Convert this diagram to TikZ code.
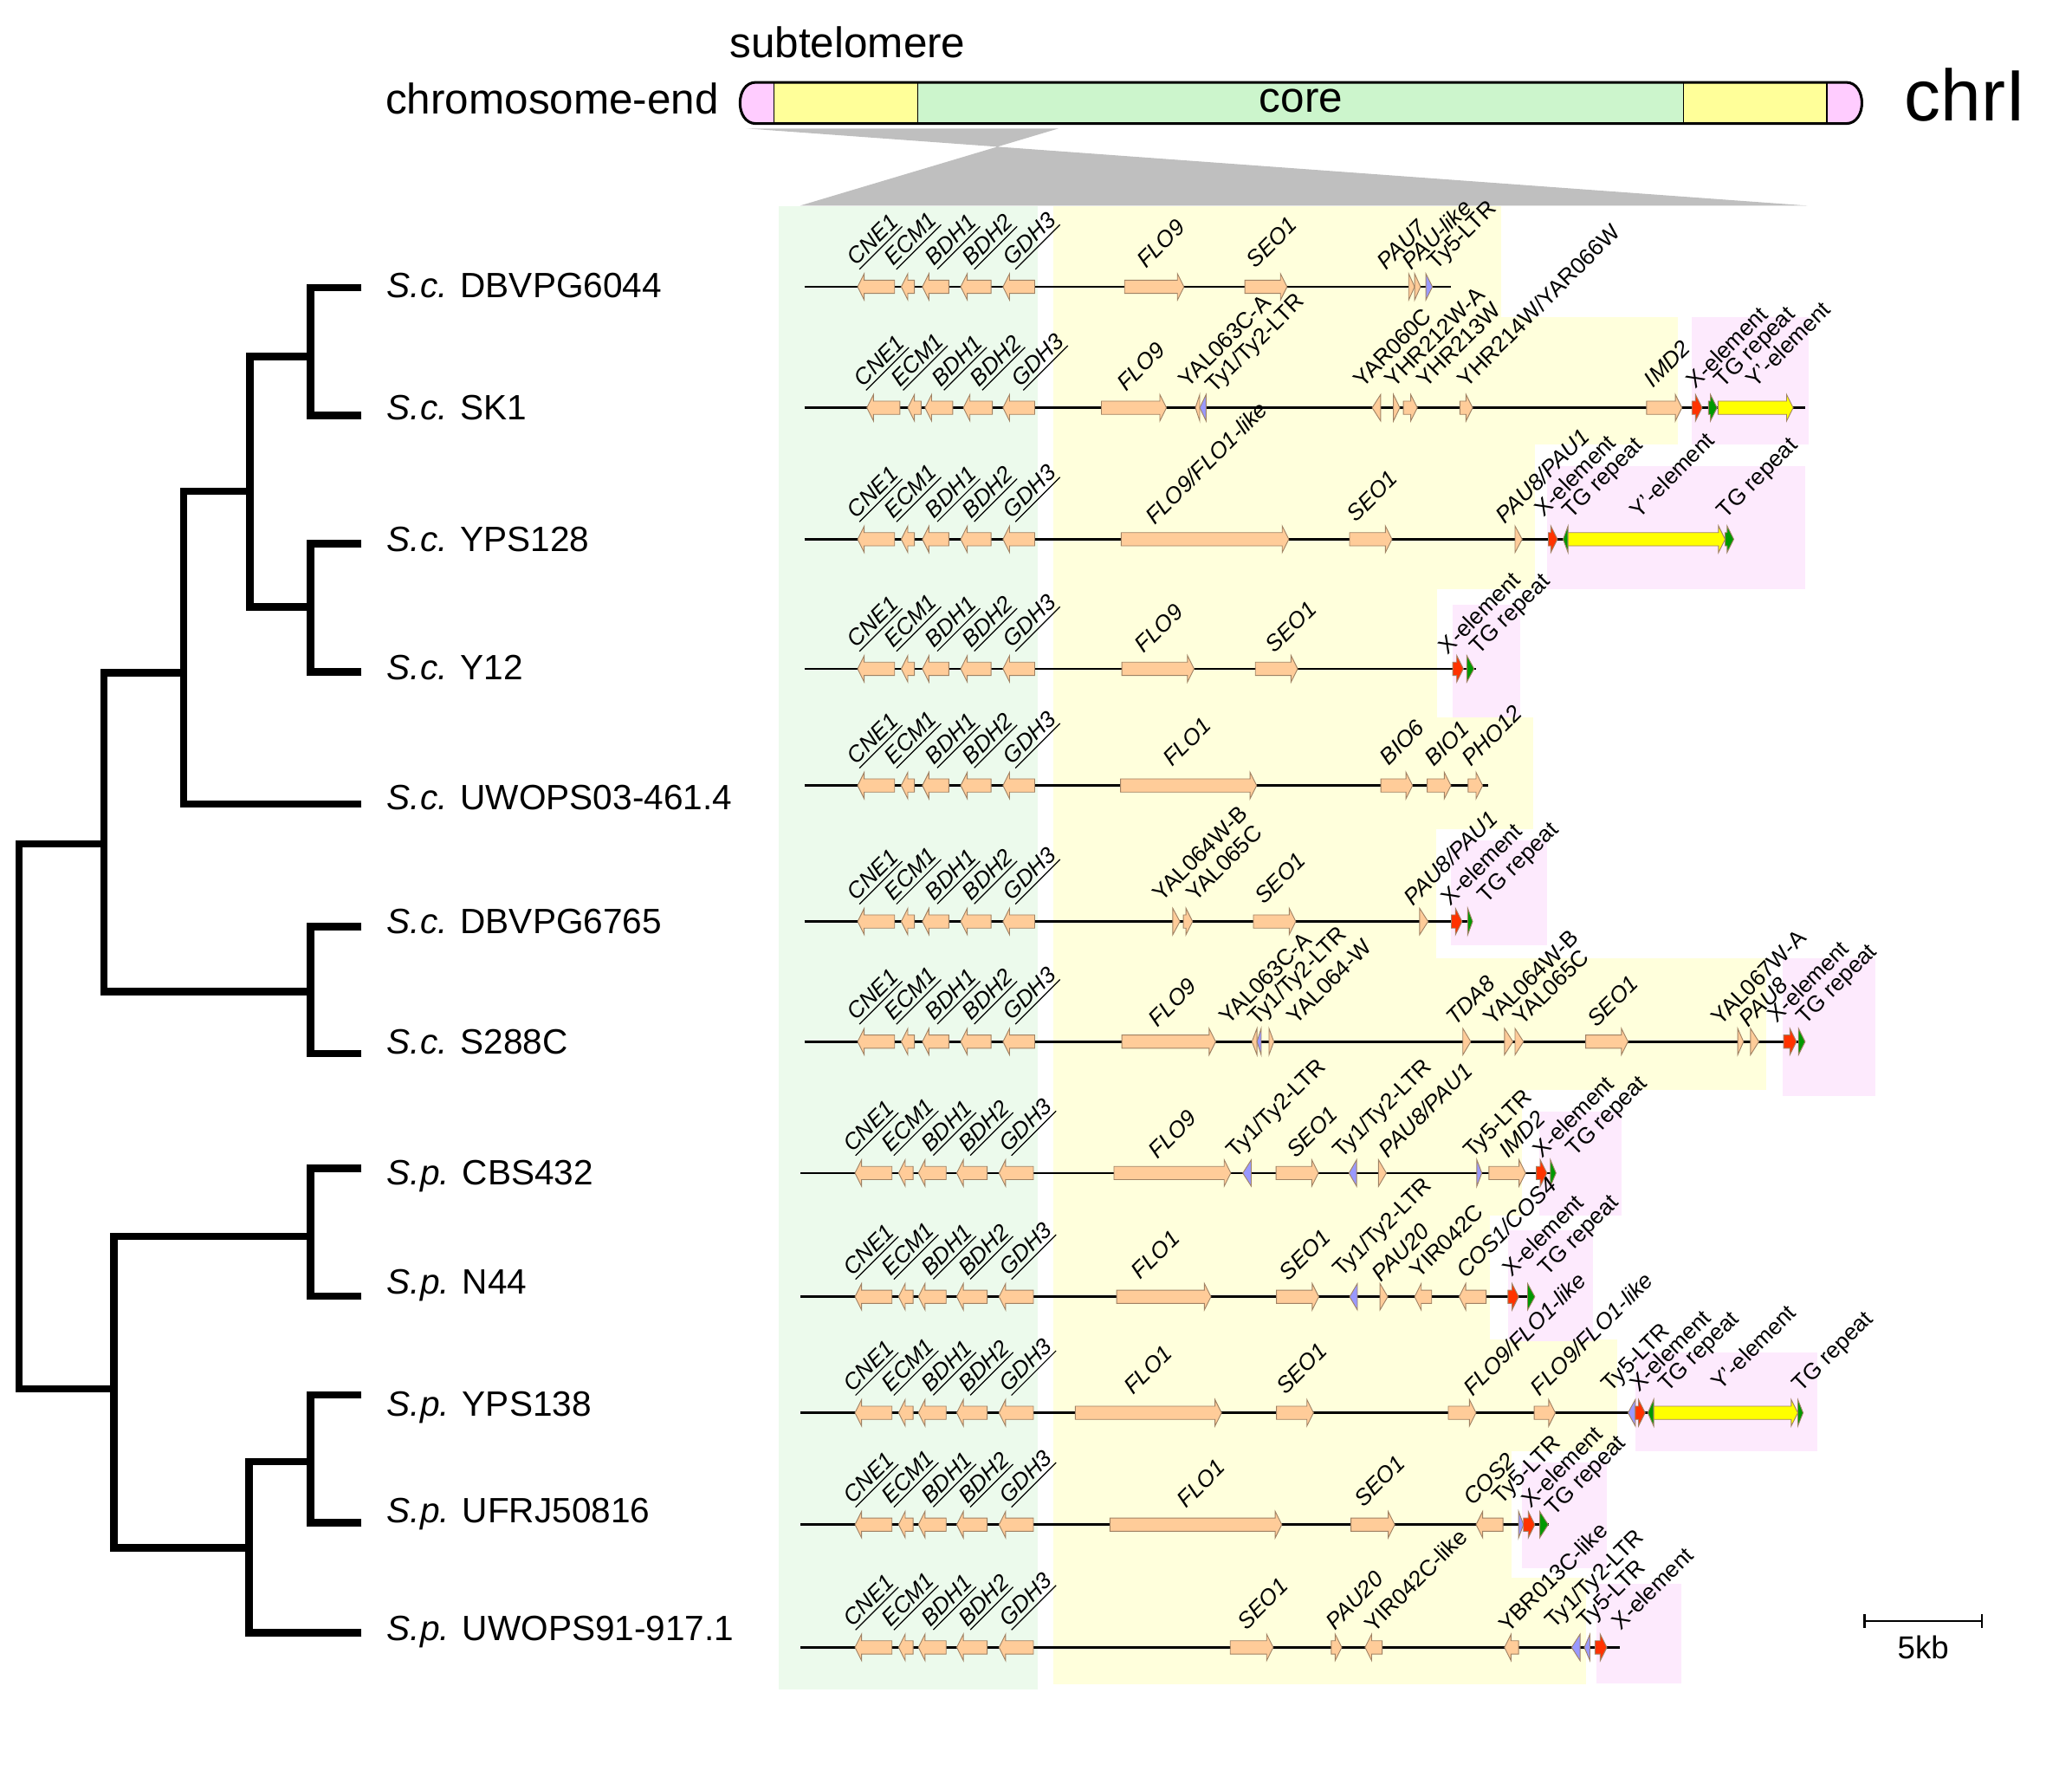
\documentclass[tikz,border=0pt]{standalone}
\usepackage{fontspec}
\setmainfont{Liberation Sans}
\definecolor{gfill}{RGB}{255,204,153}
\definecolor{gedge}{RGB}{160,130,100}
\definecolor{gltr}{RGB}{153,153,255}
\definecolor{gred}{RGB}{255,51,0}
\definecolor{ggreen}{RGB}{0,153,0}
\definecolor{gyel}{RGB}{255,255,0}
\definecolor{bggreen}{RGB}{236,250,236}
\definecolor{bgyel}{RGB}{255,255,220}
\definecolor{bgpink}{RGB}{253,234,253}
\definecolor{cpink}{RGB}{255,204,255}
\definecolor{cyel}{RGB}{255,255,153}
\definecolor{cgreen}{RGB}{204,245,204}
\definecolor{cgray}{RGB}{191,191,191}
\newcount\lblcnt
\tikzset{
 glab/.style={rotate=45,anchor=base west,inner sep=0pt,font=\fontsize{8.6}{9}\selectfont},
 gi/.style={font=\fontsize{8.6}{9}\selectfont\itshape},
 gshape/.style={draw=gedge,line width=0.3pt},
 backbone/.style={line width=0.9pt},
 treeline/.style={line width=2.8pt},
 leaflab/.style={anchor=base west,inner sep=0pt,font=\fontsize{13.3}{16}\selectfont},
 hdr/.style={inner sep=0pt,font=\fontsize{16.2}{19}\selectfont},
}
\newcommand\genelabel[4][]{\global\advance\lblcnt by 1\relax
  \node[glab,#1] (lab\the\lblcnt) at (#2,#3) {#4};}
\newcommand\gene[5]{%
  \pgfmathsetmacro\gxa{#3}%
  \pgfmathsetmacro\gxb{#4}%
  \pgfmathsetmacro\gyy{#5}%
  \pgfmathsetmacro\gww{#4-#3}%
  \ifdim\gww pt<6.5pt
    \if#2R
      \filldraw[gshape,fill=#1] (\gxa,\gyy-10) -- (\gxb,\gyy) -- (\gxa,\gyy+10) -- cycle;
    \else
      \filldraw[gshape,fill=#1] (\gxb,\gyy-10) -- (\gxa,\gyy) -- (\gxb,\gyy+10) -- cycle;
    \fi
  \else
    \if#2R
      \pgfmathsetmacro\gxc{#4-5}%
      \filldraw[gshape,fill=#1] (\gxa,\gyy-5) -- (\gxc,\gyy-5) -- (\gxc,\gyy-10) -- (\gxb,\gyy) -- (\gxc,\gyy+10) -- (\gxc,\gyy+5) -- (\gxa,\gyy+5) -- cycle;
    \else
      \pgfmathsetmacro\gxc{#3+5}%
      \filldraw[gshape,fill=#1] (\gxb,\gyy-5) -- (\gxc,\gyy-5) -- (\gxc,\gyy-10) -- (\gxa,\gyy) -- (\gxc,\gyy+10) -- (\gxc,\gyy+5) -- (\gxb,\gyy+5) -- cycle;
    \fi
  \fi}
\def\coreAlist{649/677/CNE1/648, 682/692/ECM1/676, 698/718/BDH1/707, 727/750/BDH2/735, 759/783/GDH3/766}
\def\coreBlist{656/681/CNE1/653, 687/697/ECM1/681, 700/721/BDH1/712, 729/751/BDH2/741, 759/783/GDH3/772}
\def\coreClist{647/675/CNE1/645, 680/691/ECM1/674, 695/716/BDH1/704, 724/747/BDH2/732, 756/782/GDH3/763}
\newcommand\corerow[2]{%
  \foreach \cxa/\cxb/\cnm/\clx in #2 {%
    \gene{gfill}{L}{\cxa}{\cxb}{#1}%
    \pgfmathsetmacro\cly{#1-15}%
    \genelabel[gi]{\clx}{\cly}{\underline{\cnm}}%
  }}
\begin{document}
\begin{tikzpicture}[x=0.5pt,y=-0.5pt]
\useasboundingbox (0,0) rectangle (1568,1354);
% ---------- backgrounds ----------
\fill[bggreen] (589,156) rectangle (785,1278);
\fill[bgyel] (797,156) rectangle (1136,239.7);
\fill[bgyel] (797,239.7) rectangle (1270,336.5);
\fill[bgyel] (797,336.5) rectangle (1161.5,445.8);
\fill[bgyel] (797,445.8) rectangle (1087.6,542.8);
\fill[bgyel] (797,542.8) rectangle (1160,627);
\fill[bgyel] (797,627) rectangle (1086.6,725.2);
\fill[bgyel] (797,725.2) rectangle (1336.4,824.6);
\fill[bgyel] (797,824.6) rectangle (1151.8,919.7);
\fill[bgyel] (797,919.7) rectangle (1127.8,1013.6);
\fill[bgyel] (797,1013.6) rectangle (1224,1097.8);
\fill[bgyel] (797,1097.8) rectangle (1143.8,1194);
\fill[bgyel] (797,1194) rectangle (1200,1274);
\fill[bgpink] (1280.3,239.7) rectangle (1368.6,336.5);
\fill[bgpink] (1170.6,352.9) rectangle (1365.9,446);
\fill[bgpink] (1099.4,457.8) rectangle (1150.2,542.8);
\fill[bgpink] (1098.3,635.6) rectangle (1170.6,715.4);
\fill[bgpink] (1348.8,725.2) rectangle (1419.4,829);
\fill[bgpink] (1165,841) rectangle (1226.8,919.7);
\fill[bgpink] (1141.2,930.6) rectangle (1205.4,1014.7);
\fill[bgpink] (1237.5,1023.5) rectangle (1375.5,1097.8);
\fill[bgpink] (1151.9,1106.5) rectangle (1216,1186.3);
\fill[bgpink] (1208,1198.3) rectangle (1272.2,1273.7);
% ---------- header ----------
\fill[cgray] (564.7,97.2) -- (801.1,97.2) -- (605.5,155.6) -- (1367.7,155.6) -- cycle;
\fill[cpink] (585.6,62.3) -- (572,62.3) .. controls (556,62.3) and (556,93.5) .. (572,93.5) -- (585.6,93.5) -- cycle;
\fill[cpink] (1382.4,62.3) -- (1397,62.3) .. controls (1413,62.3) and (1413,93.5) .. (1397,93.5) -- (1382.4,93.5) -- cycle;
\fill[cyel] (585.6,62.3) rectangle (694.3,93.5);
\fill[cgreen] (694.3,62.3) rectangle (1274,93.5);
\fill[cyel] (1274,62.3) rectangle (1382.4,93.5);
\draw[line width=0.4pt] (585.6,62.3) -- (585.6,93.5) (694.3,62.3) -- (694.3,93.5) (1274,62.3) -- (1274,93.5) (1382.4,62.3) -- (1382.4,93.5);
\draw[line width=1pt] (572,62.3) -- (1397,62.3) .. controls (1413,62.3) and (1413,93.5) .. (1397,93.5) -- (572,93.5) .. controls (556,93.5) and (556,62.3) .. (572,62.3) -- cycle;
\node[hdr,anchor=base] (subtel) at (641.4,43.7) {subtelomere};
\node[hdr,anchor=base east] (chrend) at (544.4,86.3) {chromosome-end};
\node[hdr,anchor=base] (core) at (984.6,85.2) {core};
\node[inner sep=0pt,anchor=base west,font=\fontsize{27.5}{32}\selectfont] (chr) at (1441,91.3) {chrI};
% ---------- tree ----------
\coordinate (l1) at (273.6,217.5);
\coordinate (l2) at (273.6,314.2);
\coordinate (l3) at (273.6,411.2);
\coordinate (l4) at (273.6,508.3);
\coordinate (l5) at (273.6,608.3);
\coordinate (l6) at (273.6,701);
\coordinate (l7) at (273.6,797.2);
\coordinate (l8) at (273.6,883.9);
\coordinate (l9) at (273.6,980.6);
\coordinate (l10) at (273.6,1055.3);
\coordinate (l11) at (273.6,1152);
\coordinate (l12) at (273.6,1235.3);
\coordinate (n12) at (234.9,269.6);
\coordinate (n34) at (234.9,459.3);
\coordinate (n1234) at (189,371.8);
\coordinate (n12345) at (139,509);
\coordinate (n67) at (234.9,750.2);
\coordinate (nSc) at (78.7,638.5);
\coordinate (n89) at (234.9,935.4);
\coordinate (n1011) at (234.9,1105.7);
\coordinate (n101112) at (188.4,1170.9);
\coordinate (nSp) at (86.3,1050.9);
\coordinate (root) at (14.4,844.7);
\draw[treeline] (l1) -| (n12); \draw[treeline] (l2) -| (n12);
\draw[treeline] (l3) -| (n34); \draw[treeline] (l4) -| (n34);
\draw[treeline] (n12) -| (n1234); \draw[treeline] (n34) -| (n1234);
\draw[treeline] (n1234) -| (n12345); \draw[treeline] (l5) -| (n12345);
\draw[treeline] (l6) -| (n67); \draw[treeline] (l7) -| (n67);
\draw[treeline] (n12345) -| (nSc); \draw[treeline] (n67) -| (nSc);
\draw[treeline] (l8) -| (n89); \draw[treeline] (l9) -| (n89);
\draw[treeline] (l10) -| (n1011); \draw[treeline] (l11) -| (n1011);
\draw[treeline] (n1011) -| (n101112); \draw[treeline] (l12) -| (n101112);
\draw[treeline] (n89) -| (nSp); \draw[treeline] (n101112) -| (nSp);
\draw[treeline] (nSc) -| (root); \draw[treeline] (nSp) -| (root);
\node[leaflab] (s1) at (292.4,225.3) {\textit{S.c.} DBVPG6044};
\node[leaflab] (s2) at (292.4,317.8) {\textit{S.c.} SK1};
\node[leaflab] (s3) at (292.4,417.3) {\textit{S.c.} YPS128};
\node[leaflab] (s4) at (292.4,514.3) {\textit{S.c.} Y12};
\node[leaflab] (s5) at (292.4,612.3) {\textit{S.c.} UWOPS03-461.4};
\node[leaflab] (s6) at (292.4,706.3) {\textit{S.c.} DBVPG6765};
\node[leaflab] (s7) at (292.4,797.3) {\textit{S.c.} S288C};
\node[leaflab] (s8) at (292.4,896.3) {\textit{S.p.} CBS432};
\node[leaflab] (s9) at (292.4,979.3) {\textit{S.p.} N44};
\node[leaflab] (s10) at (292.4,1071.3) {\textit{S.p.} YPS138};
\node[leaflab] (s11) at (292.4,1152.3) {\textit{S.p.} UFRJ50816};
\node[leaflab] (s12) at (292.4,1241.3) {\textit{S.p.} UWOPS91-917.1};
% ---------- row 1 ----------
\draw[backbone] (608.7,217) -- (1098.3,217);
\corerow{217}{\coreAlist}
\gene{gfill}{R}{851}{896}{217}
\gene{gfill}{R}{942}{974}{217}
\gene{gfill}{R}{1066}{1070.5}{217}
\gene{gfill}{R}{1070.5}{1075}{217}
\gene{gltr}{R}{1079}{1084}{217}
\genelabel[gi]{867}{204}{FLO9}
\genelabel[gi]{950}{204}{SEO1}
\genelabel[gi]{1049}{205}{PAU7}
\genelabel[gi]{1068}{205}{PAU-like}
\genelabel{1087}{205}{Ty5-LTR}
% ---------- row 2 ----------
\draw[backbone] (608.7,308.5) -- (1365.9,308.5);
\corerow{308.5}{\coreBlist}
\gene{gfill}{R}{833.5}{882.7}{308.5}
\gene{gfill}{L}{904.6}{907.9}{308.5}
\gene{gltr}{L}{907.9}{912.7}{308.5}
\gene{gfill}{L}{1038.4}{1044.8}{308.5}
\gene{gfill}{R}{1054.5}{1059.3}{308.5}
\gene{gfill}{R}{1062}{1072.6}{308.5}
\gene{gfill}{R}{1104.8}{1114.4}{308.5}
\gene{gfill}{R}{1246}{1272.8}{308.5}
\gene{gred}{R}{1280.4}{1288.1}{308.5}
\gene{ggreen}{R}{1292.9}{1299.4}{308.5}
\gene{gyel}{R}{1300.1}{1357}{308.5}
\genelabel[gi]{852}{297}{FLO9}
\genelabel{899}{294}{YAL063C-A}
\genelabel{919}{298}{Ty1/Ty2-LTR}
\genelabel{1031}{294}{YAR060C}
\genelabel{1055}{294}{YHR212W-A}
\genelabel{1079}{294}{YHR213W}
\genelabel{1110}{294}{YHR214W/YAR066W}
\genelabel[gi]{1251}{294}{IMD2}
\genelabel{1283}{295}{X-element}
\genelabel{1304}{294}{TG repeat}
\genelabel{1328}{294}{Y'-element}
% ---------- row 3 ----------
\draw[backbone] (608.7,408) -- (1312,408);
\corerow{408}{\coreAlist}
\gene{gfill}{R}{848.5}{975.3}{408}
\gene{gfill}{R}{1021.3}{1053.4}{408}
\gene{gfill}{R}{1146.5}{1151.9}{408}
\gene{gred}{R}{1171.7}{1178.6}{408}
\gene{ggreen}{L}{1182.9}{1186.6}{408}
\gene{gyel}{R}{1186.6}{1305.5}{408}
\gene{ggreen}{R}{1305.5}{1312}{408}
\genelabel[gi]{873.6}{398}{FLO9/FLO1-like}
\genelabel[gi]{1026}{396}{SEO1}
\genelabel[gi]{1138.5}{397}{PAU8/PAU1}
\genelabel{1168}{392}{X-element}
\genelabel{1189}{393}{TG repeat}
\genelabel{1240}{393}{Y'-element}
\genelabel{1306}{393}{TG repeat}
% ---------- row 4 ----------
\draw[backbone] (608.7,506) -- (1117,506);
\corerow{506}{\coreAlist}
\gene{gfill}{R}{849}{903.6}{506}
\gene{gfill}{R}{950}{982}{506}
\gene{gred}{R}{1099.4}{1107.4}{506}
\gene{ggreen}{R}{1110}{1115.5}{506}
\genelabel[gi]{865.6}{495}{FLO9}
\genelabel[gi]{964.6}{495}{SEO1}
\genelabel{1095.7}{496}{X-element}
\genelabel{1118.7}{496}{TG repeat}
% ---------- row 5 ----------
\draw[backbone] (608.7,594.3) -- (1126.2,594.3);
\corerow{594.3}{\coreAlist}
\gene{gfill}{R}{848}{951}{594.3}
\gene{gfill}{R}{1045}{1069}{594.3}
\gene{gfill}{R}{1080}{1098}{594.3}
\gene{gfill}{R}{1111}{1122}{594.3}
\genelabel[gi]{887}{581}{FLO1}
\genelabel[gi]{1051}{580}{BIO6}
\genelabel[gi]{1085}{581}{BIO1}
\genelabel[gi]{1113}{581}{PHO12}
% ---------- row 6 ----------
\draw[backbone] (608.7,697.2) -- (1114.4,697.2);
\corerow{697.2}{\coreAlist}
\gene{gfill}{R}{887.5}{892.9}{697.2}
\gene{gfill}{R}{895.5}{902.5}{697.2}
\gene{gfill}{R}{948.5}{980.6}{697.2}
\gene{gfill}{R}{1074.3}{1080.7}{697.2}
\gene{gred}{R}{1098.3}{1106.4}{697.2}
\gene{ggreen}{R}{1110.7}{1114.4}{697.2}
\genelabel{879}{683}{YAL064W-B}
\genelabel{904.6}{683}{YAL065C}
\genelabel[gi]{956.5}{685}{SEO1}
\genelabel[gi]{1068.9}{686}{PAU8/PAU1}
\genelabel{1097.3}{686}{X-element}
\genelabel{1125}{684}{TG repeat}
% ---------- row 7 ----------
\draw[backbone] (608.7,788.1) -- (1366,788.1);
\corerow{788.1}{\coreAlist}
\gene{gfill}{R}{849}{920}{788.1}
\gene{gfill}{L}{947.4}{951.2}{788.1}
\gene{gltr}{L}{951.2}{954.4}{788.1}
\gene{gfill}{R}{960.3}{964}{788.1}
\gene{gfill}{R}{1107}{1113}{788.1}
\gene{gfill}{R}{1138.5}{1144.9}{788.1}
\gene{gfill}{R}{1146.5}{1152.9}{788.1}
\gene{gfill}{R}{1200}{1232}{788.1}
\gene{gfill}{R}{1315}{1319.4}{788.1}
\gene{gfill}{R}{1324.7}{1331}{788.1}
\gene{gred}{R}{1349.8}{1359.5}{788.1}
\gene{ggreen}{R}{1361}{1366}{788.1}
\genelabel[gi]{876}{778}{FLO9}
\genelabel{929.8}{776}{YAL063C-A}
\genelabel{951}{777}{Ty1/Ty2-LTR}
\genelabel{980.6}{776}{YAL064-W}
\genelabel[gi]{1101}{777}{TDA8}
\genelabel{1129.4}{777}{YAL064W-B}
\genelabel{1152}{777}{YAL065C}
\genelabel[gi]{1208}{778}{SEO1}
\genelabel{1301.7}{777}{YAL067W-A}
\genelabel[gi]{1323}{778}{PAU8}
\genelabel{1344.5}{775}{X-element}
\genelabel{1366}{776}{TG repeat}
% ---------- row 8 ----------
\draw[backbone] (606,887.5) -- (1177.5,887.5);
\corerow{887.5}{\coreClist}
\gene{gfill}{R}{843}{931.4}{887.5}
\gene{gltr}{L}{940.5}{946.9}{887.5}
\gene{gfill}{R}{965.6}{997.7}{887.5}
\gene{gltr}{L}{1020.8}{1026.6}{887.5}
\gene{gfill}{R}{1043.2}{1049.1}{887.5}
\gene{gltr}{R}{1117.6}{1121.4}{887.5}
\gene{gfill}{R}{1126.7}{1154.5}{887.5}
\gene{gred}{R}{1162.6}{1170.6}{887.5}
\gene{ggreen}{R}{1173.3}{1177.5}{887.5}
\genelabel[gi]{876}{878}{FLO9}
\genelabel{935}{877}{Ty1/Ty2-LTR}
\genelabel[gi]{980.6}{877}{SEO1}
\genelabel{1015.4}{877}{Ty1/Ty2-LTR}
\genelabel[gi]{1050}{877}{PAU8/PAU1}
\genelabel{1114.4}{877}{Ty5-LTR}
\genelabel[gi]{1141}{877}{IMD2}
\genelabel{1166.8}{877}{X-element}
\genelabel{1192}{876}{TG repeat}
% ---------- row 9 ----------
\draw[backbone] (606,981.1) -- (1161.5,981.1);
\corerow{981.1}{\coreClist}
\gene{gfill}{R}{845}{916.4}{981.1}
\gene{gfill}{R}{966}{998}{981.1}
\gene{gltr}{L}{1021.3}{1027.2}{981.1}
\gene{gfill}{R}{1044.3}{1050.2}{981.1}
\gene{gfill}{L}{1070.5}{1083.4}{981.1}
\gene{gfill}{L}{1104.2}{1124.6}{981.1}
\gene{gred}{R}{1141.2}{1149.2}{981.1}
\gene{ggreen}{R}{1156}{1161.5}{981.1}
\genelabel[gi]{863}{969}{FLO1}
\genelabel[gi]{975}{970}{SEO1}
\genelabel{1015.4}{967}{Ty1/Ty2-LTR}
\genelabel[gi]{1044.8}{971}{PAU20}
\genelabel{1074}{968}{YIR042C}
\genelabel[gi]{1109}{968}{COS1/COS4}
\genelabel{1143.8}{967}{X-element}
\genelabel{1170.6}{966}{TG repeat}
% ---------- row 10 ----------
\draw[backbone] (606,1068.9) -- (1363.2,1068.9);
\corerow{1068.9}{\coreClist}
\gene{gfill}{R}{813.7}{924.4}{1068.9}
\gene{gfill}{R}{966}{994}{1068.9}
\gene{gfill}{R}{1096}{1117}{1068.9}
\gene{gfill}{R}{1161}{1177}{1068.9}
\gene{gltr}{L}{1232}{1237.5}{1068.9}
\gene{gred}{R}{1237.5}{1245}{1068.9}
\gene{ggreen}{L}{1247}{1251.4}{1068.9}
\gene{gyel}{R}{1251.4}{1360.5}{1068.9}
\gene{ggreen}{R}{1360.5}{1364.5}{1068.9}
\genelabel[gi]{857.5}{1056}{FLO1}
\genelabel[gi]{972.6}{1056}{SEO1}
\genelabel[gi]{1114.4}{1057}{FLO9/FLO1-like}
\genelabel[gi]{1165.2}{1057}{FLO9/FLO1-like}
\genelabel{1218.7}{1054}{Ty5-LTR}
\genelabel{1240}{1054}{X-element}
\genelabel{1261.6}{1054}{TG repeat}
\genelabel{1301.7}{1053}{Y'-element}
\genelabel{1363}{1054}{TG repeat}
% ---------- row 11 ----------
\draw[backbone] (606,1153.5) -- (1172.2,1153.5);
\corerow{1153.5}{\coreClist}
\gene{gfill}{R}{840}{970}{1153.5}
\gene{gfill}{R}{1022.4}{1055.5}{1153.5}
\gene{gfill}{L}{1117}{1137.4}{1153.5}
\gene{gltr}{R}{1149.2}{1152.9}{1153.5}
\gene{gred}{R}{1152.9}{1161.5}{1153.5}
\gene{ggreen}{R}{1165.2}{1171.6}{1153.5}
\genelabel[gi]{897.7}{1142}{FLO1}
\genelabel[gi]{1031.5}{1141}{SEO1}
\genelabel[gi]{1114.4}{1140}{COS2}
\genelabel{1135.8}{1139}{Ty5-LTR}
\genelabel{1158.3}{1142}{X-element}
\genelabel{1176}{1148}{TG repeat}
% ---------- row 12 ----------
\draw[backbone] (606,1246.4) -- (1225.7,1246.4);
\corerow{1246.4}{\coreClist}
\gene{gfill}{R}{931}{963.5}{1246.4}
\gene{gfill}{R}{1007.4}{1015.4}{1246.4}
\gene{gfill}{L}{1033}{1046}{1246.4}
\gene{gfill}{L}{1138.5}{1149.2}{1246.4}
\gene{gltr}{L}{1189.3}{1195.7}{1246.4}
\gene{gltr}{L}{1198.9}{1203.2}{1246.4}
\gene{gred}{R}{1207}{1216}{1246.4}
\genelabel[gi]{943}{1234}{SEO1}
\genelabel[gi]{1010}{1234}{PAU20}
\genelabel{1039.5}{1236}{YIR042C-like}
\genelabel{1141}{1236}{YBR013C-like}
\genelabel{1176}{1233}{Ty1/Ty2-LTR}
\genelabel{1200}{1233}{Ty5-LTR}
\genelabel{1226.8}{1234}{X-element}
% ---------- scale bar ----------
\coordinate (sbA) at (1411.1,1226.3);
\coordinate (sbB) at (1499.8,1226.3);
\draw[line width=0.8pt] (sbA) -- (sbB);
\draw[line width=0.8pt] ([yshift=2.6pt]sbA) -- ([yshift=-2.6pt]sbA);
\draw[line width=0.8pt] ([yshift=2.6pt]sbB) -- ([yshift=-2.6pt]sbB);
\node[inner sep=0pt,anchor=base,font=\fontsize{12}{14}\selectfont] (sbl) at (1455.4,1255.3) {5kb};
\end{tikzpicture}
\end{document}
